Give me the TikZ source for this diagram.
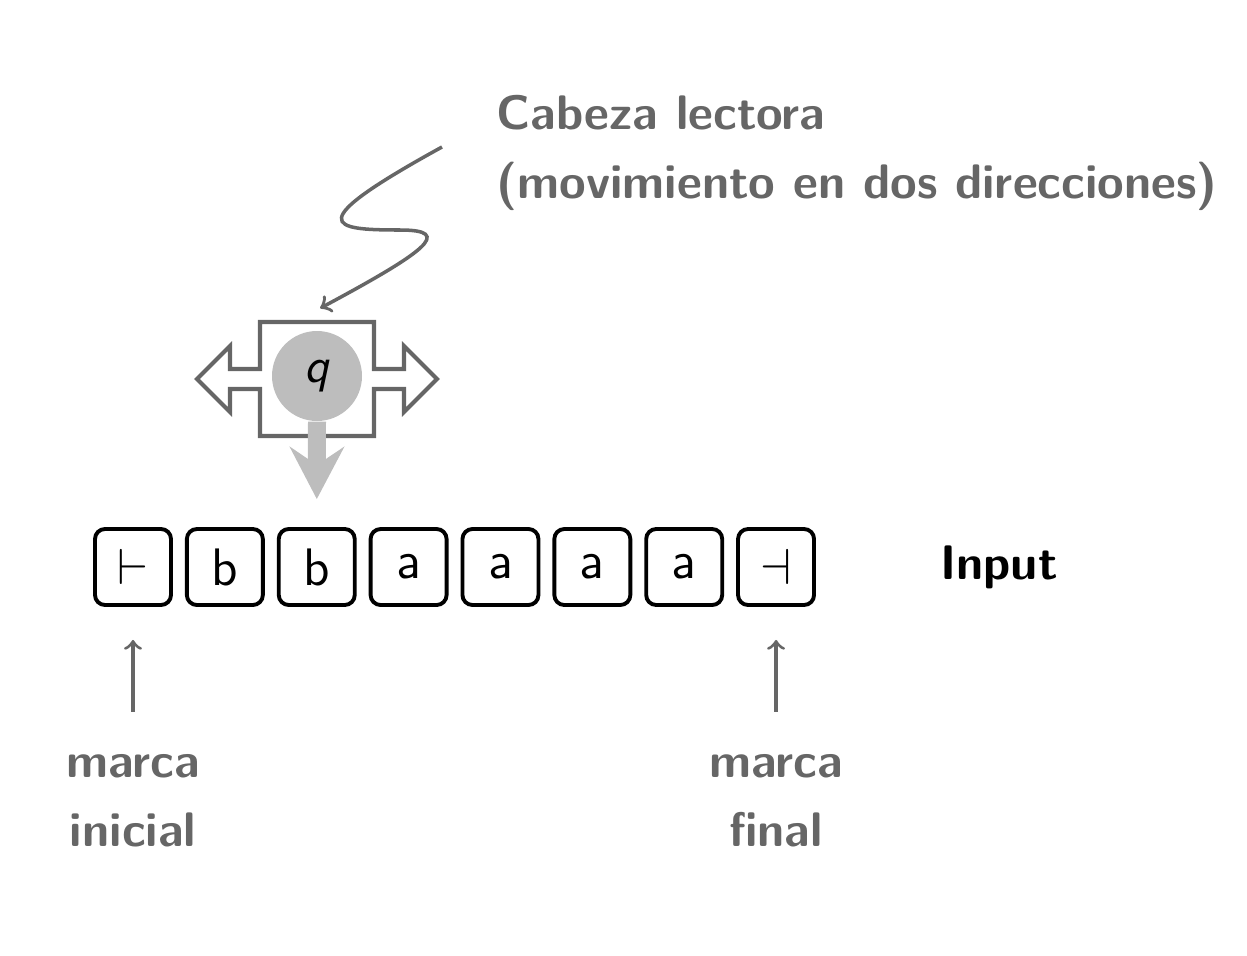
\documentclass[tikz,border=0pt]{standalone}
\usepackage{fontspec}
\renewcommand{\familydefault}{\sfdefault}
\usetikzlibrary{positioning,arrows.meta}
\definecolor{labelgray}{HTML}{666666}
\definecolor{headgray}{HTML}{BDBDBD}

\begin{document}
\begin{tikzpicture}[
    node distance=0.12cm,
    cell/.style={rectangle, rounded corners=0.1cm, draw=black, line width=1.1pt, minimum size=0.76cm, inner sep=0pt, font=\fontsize{15}{18}\selectfont},
    caption/.style={font=\fontsize{13.8}{19.6}\selectfont\bfseries, text=labelgray, align=center},
    pointer/.style={-to, line width=0.9pt, draw=labelgray},
    cueline/.style={-to, line width=1pt, draw=labelgray},
    frame/.style={draw=labelgray, line width=1.15pt},
    move/.style={-{Stealth[length=0.52cm,width=0.54cm,inset=0.18cm]}, line width=0.18cm, draw=headgray}
]
\useasboundingbox (0,0) rectangle (12.47,-9.55);

% Tape
\node[cell] (c1) at (1.33,-5.67) {$\vdash$};
\node[cell, right=of c1] (c2) {b};
\node[cell, right=of c2] (c3) {b};
\node[cell, right=of c3] (c4) {a};
\node[cell, right=of c4] (c5) {a};
\node[cell, right=of c5] (c6) {a};
\node[cell, right=of c6] (c7) {a};
\node[cell, right=of c7] (c8) {$\dashv$};
\node[caption, text=black, right=1.12cm of c8] (input) {Input};

% Head
\node[minimum size=1.14cm, inner sep=0pt] (head) at (3.17,-3.79) {};
\draw[frame, shift={(head.center)}] (-0.57,0.57) -- (0.57,0.57) -- (0.57,0.10) -- (0.87,0.10) -- (0.87,0.33) -- (1.20,0) -- (0.87,-0.33) -- (0.87,-0.10) -- (0.57,-0.10) -- (0.57,-0.57) -- (-0.57,-0.57) -- (-0.57,-0.10) -- (-0.87,-0.10) -- (-0.87,-0.33) -- (-1.20,0) -- (-0.87,0.33) -- (-0.87,0.10) -- (-0.57,0.10) -- cycle;
\node[circle, fill=headgray, minimum size=0.9cm, inner sep=0pt, font=\fontsize{14}{17}\selectfont] (state) at ([yshift=0.03cm]head.center) {\textit{q}};

% Labels
\node[caption, anchor=north west, inner sep=0pt, align=left] (title) at (4.96,-0.95) {Cabeza lectora\\(movimiento en dos direcciones)};
\coordinate (cue) at (4.42,-1.47);
\node[caption, below=1.35cm of c1] (ini) {marca\\inicial};
\node[caption, below=1.35cm of c8] (fin) {marca\\final};

% Arrows
\draw[cueline, shorten >=0.15cm] (cue) .. controls (3.0,-2.25) and (3.3,-2.30) .. (4.0,-2.30) .. controls (4.55,-2.30) and (4.25,-2.52) .. ([shift={(-0.1,0.06)}]head.north);
\draw[move, shorten >=0.28cm] (state.south) -- (c3.north);
\draw[pointer, shorten <=0.30cm, shorten >=0.33cm] (ini) -- (c1);
\draw[pointer, shorten <=0.30cm, shorten >=0.33cm] (fin) -- (c8);

\end{tikzpicture}
\end{document}
